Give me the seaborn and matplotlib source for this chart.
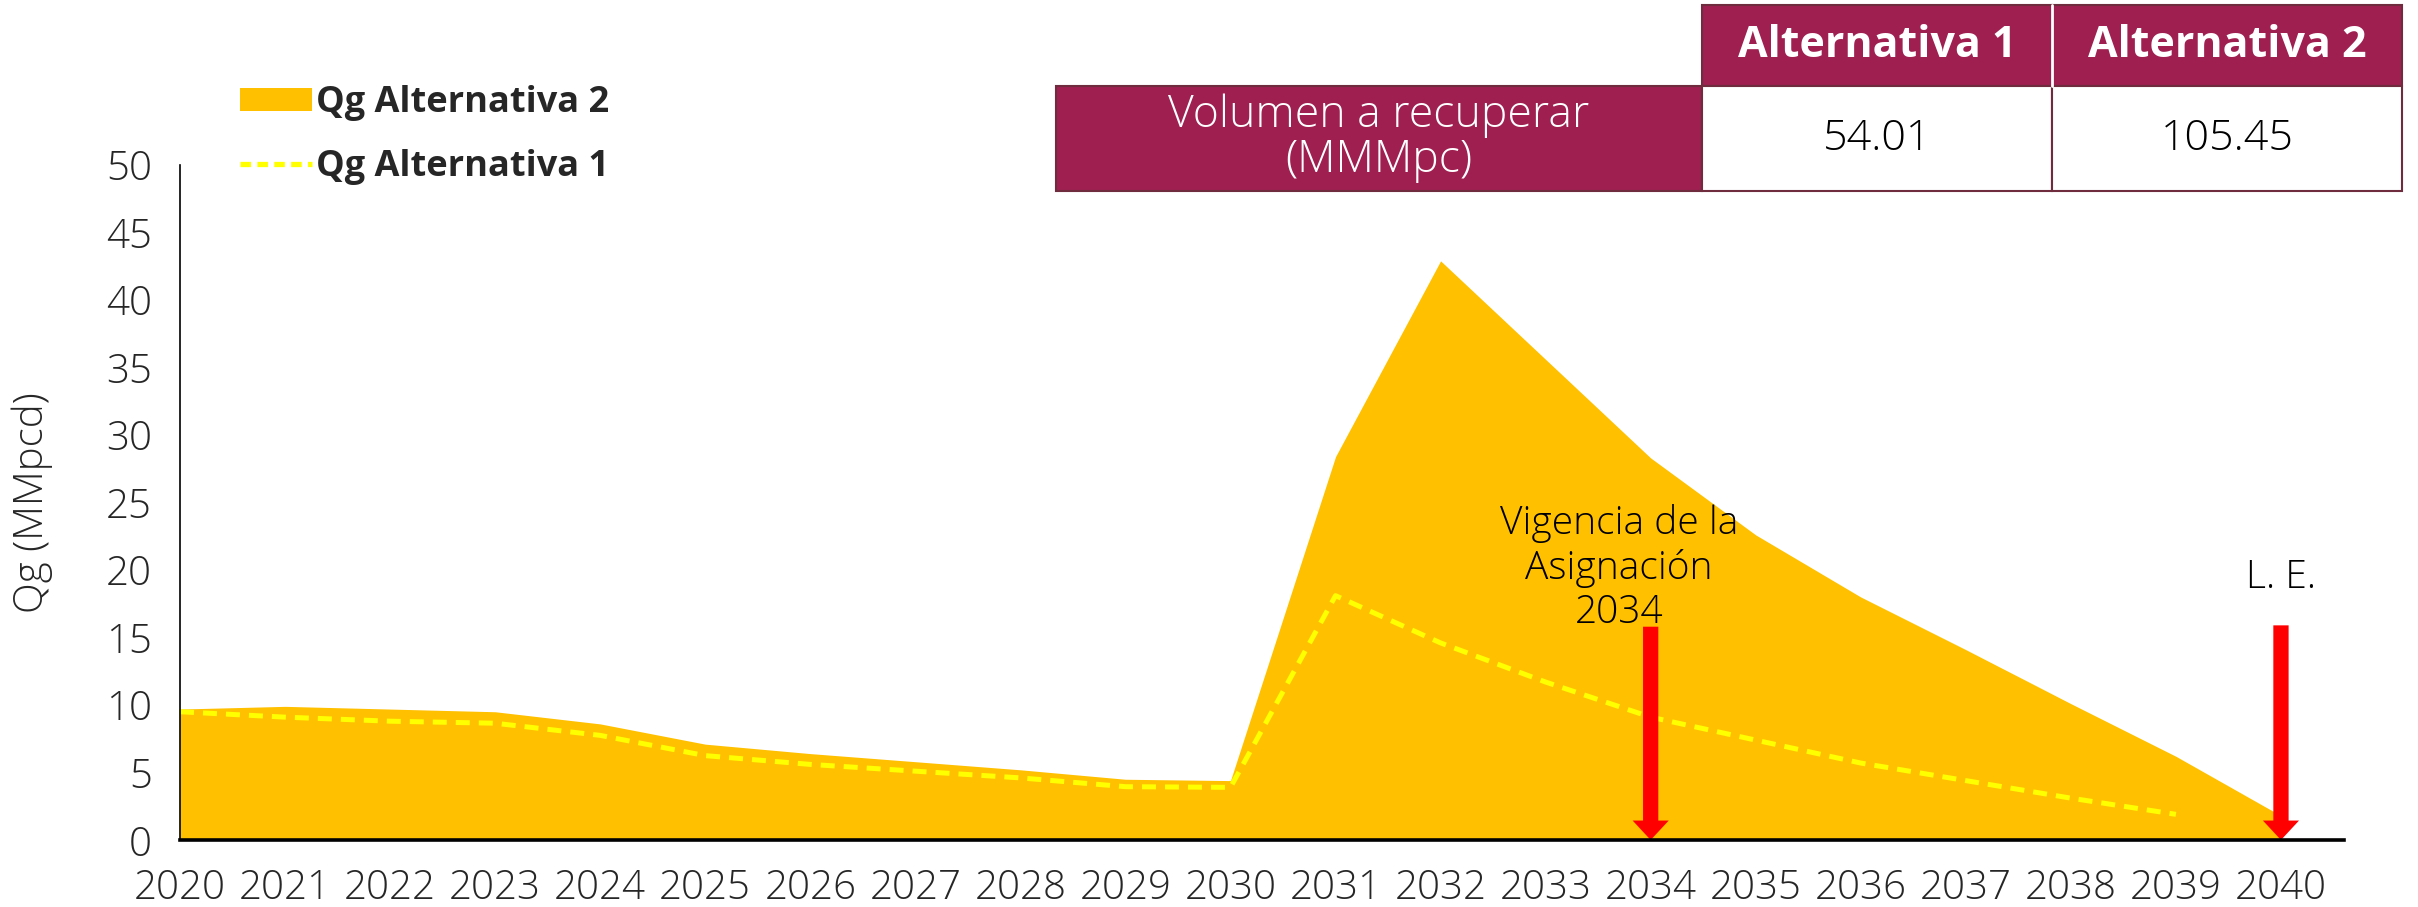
import matplotlib
matplotlib.use("Agg")
import matplotlib.pyplot as plt
import seaborn as sns
import pandas as pd
from matplotlib.patches import Rectangle, Patch
from matplotlib.lines import Line2D

# ---------------- data ----------------
years = list(range(2020, 2041))
qg_alt2 = [9.7, 9.9, 9.7, 9.5, 8.6, 7.1, 6.4, 5.8, 5.2, 4.5, 4.4,
           28.4, 42.9, 35.6, 28.3, 22.6, 18.0, 14.1, 10.1, 6.2, 1.8]
years_alt1 = list(range(2020, 2040))
qg_alt1 = [9.5, 9.1, 8.8, 8.65, 7.75, 6.25, 5.6, 5.1, 4.6, 3.95, 3.9,
           18.1, 14.6, 11.7, 9.1, 7.4, 5.7, 4.4, 3.1, 1.9]
arrow_years = [2034, 2040]
arrow_tops = [15.8, 15.9]
table_cols = ["Alternativa 1", "Alternativa 2"]
table_row_label = "Volumen a recuperar\n(MMMpc)"
table_values = ["54.01", "105.45"]
ytick_vals = list(range(0, 55, 5))

df2 = pd.DataFrame({"year": years, "qg": qg_alt2})
df1 = pd.DataFrame({"year": years_alt1, "qg": qg_alt1})

# ---------------- style ----------------
sns.set_theme(style="white")
plt.rcParams["font.family"] = ["Open Sans", "DejaVu Sans"]

FILL = "#FFC000"
LINE = "#FFFF00"
WINE = "#9E1F50"
WINE_DARK = "#6E2C3E"
LIGHT = "light"

W, H = 2418, 907
fig = plt.figure(figsize=(W / 100, H / 100), dpi=100)
ax = fig.add_axes([180 / W, 1 - 840 / H, (2344 - 180) / W, (840 - 165) / H])

ax.fill_between(df2["year"], 0, df2["qg"], color=FILL, linewidth=0, zorder=1)
sns.lineplot(data=df1, x="year", y="qg", ax=ax, color=LINE, linewidth=3.6,
             linestyle=(0, (2.8, 1.8)), zorder=2, legend=False)

for yr, top in zip(arrow_years, arrow_tops):
    ax.annotate("", xy=(yr, 0), xytext=(yr, top),
                arrowprops=dict(facecolor="#FF0000", edgecolor="none",
                                width=11, headwidth=26, headlength=14),
                zorder=5)

ax.text(2034 - 0.3, 15.4, "Vigencia de la\nAsignación\n2034", ha="center",
        va="bottom", fontsize=28, linespacing=1.2, color="black", fontweight=LIGHT)
ax.text(2040, 18.0, "L. E.", ha="center", va="bottom", fontsize=28,
        color="black", fontweight=LIGHT)

ax.set_xlim(2020, 2040.6)
ax.set_ylim(0, 50)
ax.set_xticks(years)
ax.set_xticklabels([str(y) for y in years], fontsize=29, fontweight=LIGHT)
ax.set_yticks(ytick_vals)
ax.set_yticklabels([str(v) for v in ytick_vals], fontsize=29, fontweight=LIGHT)
ax.tick_params(axis="both", length=0)
ax.tick_params(axis="x", pad=20)
ax.tick_params(axis="y", pad=20)
ax.set_xlabel("")
ax.set_ylabel("Qg (MMpcd)", fontsize=29, labelpad=38, fontweight=LIGHT)
for s in ["top", "right"]:
    ax.spines[s].set_visible(False)
ax.spines["left"].set_color("black")
ax.spines["left"].set_linewidth(1.2)
ax.spines["bottom"].set_color("black")
ax.spines["bottom"].set_linewidth(2.6)
ax.spines["bottom"].set_zorder(6)

# legend
handles = [Patch(facecolor=FILL, edgecolor="none", label="Qg Alternativa 2"),
           Line2D([0], [0], color=LINE, lw=3.8, linestyle=(0, (2, 1.2)),
                  label="Qg Alternativa 1")]
leg = fig.legend(handles=handles, loc="upper left",
                 bbox_to_anchor=(222 / W, 1 - 67 / H), frameon=False,
                 prop={"weight": "bold", "size": 26}, handlelength=2.0,
                 handleheight=0.6, handletextpad=0.1, labelspacing=0.78,
                 borderpad=0)

# table
def cell(x0, y0, x1, y1, face, edge):
    fig.add_artist(Rectangle((x0 / W, 1 - y1 / H), (x1 - x0) / W, (y1 - y0) / H,
                             transform=fig.transFigure, facecolor=face,
                             edgecolor=edge, linewidth=1.5, zorder=10))

c0, c1, c2, c3 = 1056, 1702, 2052, 2402
r0, r1, r2 = 5, 86, 191
cell(c1, r0, c2, r1, WINE, WINE_DARK)
cell(c2, r0, c3, r1, WINE, WINE_DARK)
cell(c0, r1, c1, r2, WINE, WINE_DARK)
cell(c1, r1, c2, r2, "white", WINE_DARK)
cell(c2, r1, c3, r2, "white", WINE_DARK)
fig.add_artist(Line2D([c2 / W, c2 / W], [1 - r0 / H, 1 - r1 / H],
                      transform=fig.transFigure, color="white", lw=2, zorder=11))

for (xa, xb), lab in zip([(c1, c2), (c2, c3)], table_cols):
    fig.text((xa + xb) / 2 / W, 1 - (r0 + r1) / 2 / H, lab, ha="center",
             va="center", color="white", fontsize=31, fontweight="bold", zorder=12)
for (xa, xb), val in zip([(c1, c2), (c2, c3)], table_values):
    fig.text((xa + xb) / 2 / W, 1 - (r1 + r2) / 2 / H, val, ha="center",
             va="center", color="black", fontsize=31, fontweight=LIGHT, zorder=12)
fig.text((c0 + c1) / 2 / W, 1 - (r1 + r2) / 2 / H, table_row_label, ha="center",
         va="center", color="white", fontsize=32, linespacing=1.0,
         fontweight=LIGHT, zorder=12)

fig.savefig("out.png", dpi=100)
